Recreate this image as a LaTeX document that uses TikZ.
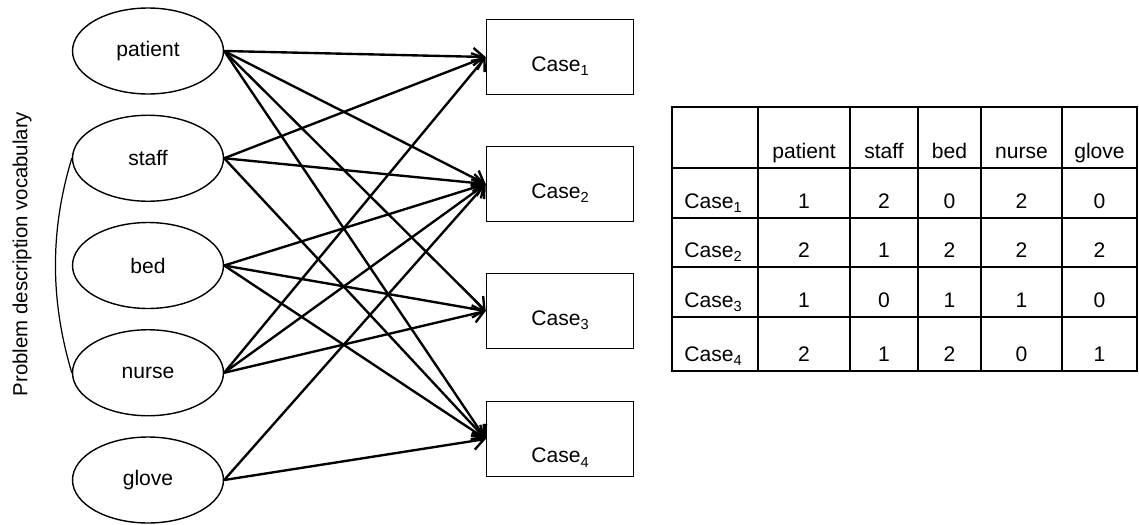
\documentclass[tikz,border=0pt]{standalone}
\usepackage{fontspec}
\setmainfont{Liberation Sans}
\usetikzlibrary{shapes.geometric,arrows.meta}
\newcommand\casesub[1]{\raisebox{-2.6pt}{\fontsize{8.3}{10}\selectfont #1}}

\begin{document}
\begin{tikzpicture}[x=0.02cm, y=-0.02cm, font=\fontsize{12}{14}\selectfont]
        \tikzstyle{word}=[draw, ellipse, line width=0.8pt, inner sep=0pt, minimum width=3.02cm, minimum height=1.72cm]
        \tikzstyle{casebox}=[draw, rectangle, line width=0.9pt, inner sep=0pt, minimum width=2.94cm, minimum height=1.5cm, text depth=0pt]
        \tikzstyle{link}=[line width=1.35pt, -{Straight Barb[length=6pt,width=10pt]}]
        \tikzstyle{grid}=[line width=1.35pt]
        \tikzstyle{cell}=[inner sep=0pt, anchor=base]
        \useasboundingbox (0,0) rectangle (1139,524);
        % vocabulary
        \foreach \w [count=\i] in {patient,staff,bed,nurse,glove}
            \node[word] (\w) at (148,{51+107.25*(\i-1)}) {\w};
        \node[rotate=90, font=\fontsize{11.6}{14}\selectfont] (vocab) at (22,254) {Problem description vocabulary};
        \draw[line width=0.7pt] (staff.west) .. controls (50,230) and (50,300) .. (nurse.west);
        % cases
        \foreach \y/\lift [count=\i] in {57/16,184/16,311/16,439/27}
            \node[casebox, text height=\lift pt] (case\i) at (560,\y) {Case\casesub{\i}};
        \foreach \w/\c in {patient/1,patient/2,patient/3,patient/4,staff/1,staff/2,staff/4,bed/2,bed/3,bed/4,nurse/1,nurse/2,nurse/3,glove/2,glove/4}
            \draw[link] (\w.east) -- (case\c.west);
        % table
        \draw[grid] (672,107) rectangle (1137,371);
        \foreach \x in {758,850,918,981,1062}
            \draw[grid] (\x,107) -- (\x,371);
        \foreach \y in {168,218,267,317}
            \draw[grid] (672,\y) -- (1137,\y);
        \foreach \w/\x [count=\k] in {patient/804,staff/884,bed/949.5,nurse/1021.5,glove/1099.5}
            \node[cell] (h\k) at (\x,158) {\w};
        \foreach \y/\vals [count=\r] in {208/{1,2,0,2,0},257/{2,1,2,2,2},307/{1,0,1,1,0},361/{2,1,2,0,1}} {
            \node[cell, anchor=base west] (row\r) at (684,\y) {Case\casesub{\r}};
            \foreach \v [count=\k] in \vals
                \node[cell] (v\r\k) at (h\k.base |- row\r.base) {\v};
        }
    \end{tikzpicture}
\end{document}
